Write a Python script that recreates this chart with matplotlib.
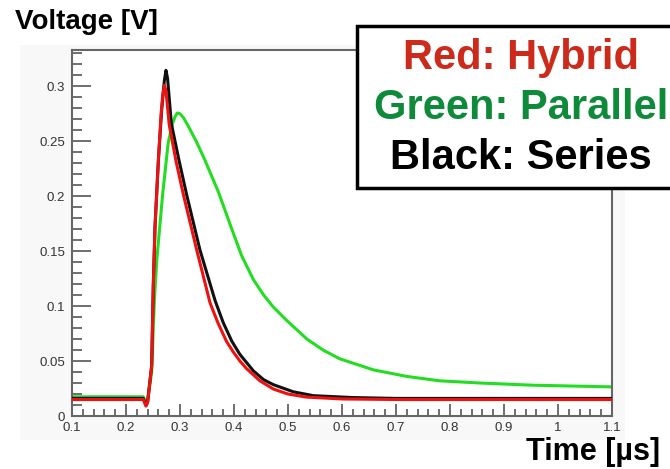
import matplotlib
matplotlib.use("Agg")
import matplotlib.pyplot as plt
import matplotlib.patches as patches
from matplotlib.ticker import MultipleLocator, FixedLocator

W, H = 670, 469

# pulse shapes read as (time [us], voltage [V]) samples
t_hybrid = [0.10, 0.20, 0.232, 0.237, 0.240, 0.2475, 0.2506, 0.2537, 0.260, 0.265,
            0.268, 0.271, 0.274, 0.280, 0.293, 0.306, 0.331, 0.3556, 0.370, 0.386,
            0.399, 0.411, 0.4235, 0.448, 0.473, 0.500, 0.534, 0.60, 0.70, 0.80,
            0.90, 1.00, 1.10]
v_hybrid = [0.015, 0.015, 0.015, 0.009, 0.012, 0.045, 0.120, 0.172, 0.233, 0.275,
            0.292, 0.301, 0.296, 0.265, 0.231, 0.202, 0.151, 0.103, 0.085, 0.068,
            0.058, 0.050, 0.043, 0.032, 0.0245, 0.020, 0.0172, 0.0155, 0.015, 0.015,
            0.015, 0.015, 0.015]

t_series = [0.10, 0.20, 0.232, 0.237, 0.240, 0.2475, 0.2506, 0.2537, 0.260, 0.266,
            0.271, 0.274, 0.277, 0.284, 0.298, 0.312, 0.337, 0.365, 0.380, 0.396,
            0.411, 0.436, 0.455, 0.473, 0.510, 0.547, 0.62, 0.70, 0.80, 0.90,
            1.00, 1.10]
v_series = [0.016, 0.016, 0.016, 0.010, 0.013, 0.046, 0.120, 0.172, 0.233, 0.278,
            0.305, 0.3145, 0.307, 0.266, 0.233, 0.202, 0.151, 0.105, 0.085, 0.068,
            0.056, 0.041, 0.033, 0.0285, 0.022, 0.0185, 0.0168, 0.016, 0.016, 0.016,
            0.016, 0.016]

t_parallel = [0.10, 0.20, 0.232, 0.237, 0.240, 0.2475, 0.2525, 0.257, 0.268, 0.278,
              0.286, 0.291, 0.295, 0.300, 0.307, 0.315, 0.330, 0.346, 0.358, 0.371,
              0.393, 0.414, 0.436, 0.455, 0.473, 0.4975, 0.535, 0.565, 0.596, 0.658,
              0.72, 0.781, 0.856, 0.954, 1.10]
v_parallel = [0.0175, 0.0175, 0.0175, 0.012, 0.014, 0.040, 0.105, 0.142, 0.2024, 0.248,
              0.266, 0.2725, 0.2757, 0.275, 0.271, 0.264, 0.250, 0.233, 0.219, 0.204,
              0.174, 0.146, 0.124, 0.110, 0.099, 0.087, 0.070, 0.060, 0.052, 0.042,
              0.036, 0.032, 0.030, 0.028, 0.0265]

x_ticks = [0.1, 0.2, 0.3, 0.4, 0.5, 0.6, 0.7, 0.8, 0.9, 1.0, 1.1]
x_labels = ["0.1", "0.2", "0.3", "0.4", "0.5", "0.6", "0.7", "0.8", "0.9", "1", "1.1"]
y_ticks = [0, 0.05, 0.1, 0.15, 0.2, 0.25, 0.3]
y_labels = ["0", "0.05", "0.1", "0.15", "0.2", "0.25", "0.3"]

legend_lines = ["Red: Hybrid", "Green: Parallel", "Black: Series"]
legend_colors = ["#cc2a1a", "#0e8a3a", "#000000"]

FONT = "Liberation Sans"


def fx(px):
    return px / W


def fy(py):
    return 1 - py / H


fig = plt.figure(figsize=(W / 100, H / 100), dpi=100)

# light grey pad behind the frame
fig.patches.append(patches.Rectangle((fx(20), fy(440)), fx(625) - fx(20), fy(45) - fy(440),
                                     transform=fig.transFigure, facecolor="#f8f8f8",
                                     edgecolor="none", zorder=-1))

ax = fig.add_axes([fx(72), fy(416), fx(612) - fx(72), fy(50) - fy(416)])
ax.set_zorder(1)
ax.set_facecolor("white")

ax.plot(t_parallel, v_parallel, color="#22dd22", lw=2.2, zorder=2)
ax.plot(t_series, v_series, color="#111111", lw=2.2, zorder=3)
ax.plot(t_hybrid, v_hybrid, color="#ee1111", lw=2.2, zorder=4)

ax.set_xlim(0.1, 1.1)
ax.set_ylim(0, 0.333)

ax.xaxis.set_major_locator(FixedLocator(x_ticks))
ax.xaxis.set_minor_locator(MultipleLocator(0.02))
ax.yaxis.set_major_locator(FixedLocator(y_ticks))
ax.yaxis.set_minor_locator(MultipleLocator(0.01))
ax.set_xticklabels(x_labels, fontfamily=FONT, fontsize=9.5, color="#333333")
ax.set_yticklabels(y_labels, fontfamily=FONT, fontsize=9.5, color="#333333")

ax.tick_params(axis="both", which="both", direction="in", color="#555555", width=1.2)
ax.tick_params(axis="y", which="major", length=14, pad=5)
ax.tick_params(axis="y", which="minor", length=7)
ax.tick_params(axis="x", which="major", length=9, pad=4)
ax.tick_params(axis="x", which="minor", length=5)
ax.tick_params(top=False, right=False, which="both")

for side in ax.spines.values():
    side.set_color("#666666")
    side.set_linewidth(1.5)

fig.text(fx(15), fy(22), "Voltage [V]", fontfamily=FONT, fontweight="bold",
         fontsize=20, ha="left", va="center")
fig.text(fx(660), fy(452), "Time [\u00b5s]", fontfamily=FONT, fontweight="bold",
         fontsize=22, ha="right", va="center")

# legend box with coloured captions
fig.patches.append(patches.Rectangle((fx(357), fy(188)), fx(700) - fx(357), fy(26) - fy(188),
                                     transform=fig.transFigure, facecolor="white",
                                     edgecolor="black", linewidth=2.5, zorder=5))
for i, (txt, col) in enumerate(zip(legend_lines, legend_colors)):
    fig.text(fx(521), fy(58 + 50 * i), txt, color=col, fontfamily=FONT,
             fontweight="bold", fontsize=30, ha="center", va="center", zorder=6)

fig.savefig("out.png", dpi=100)
